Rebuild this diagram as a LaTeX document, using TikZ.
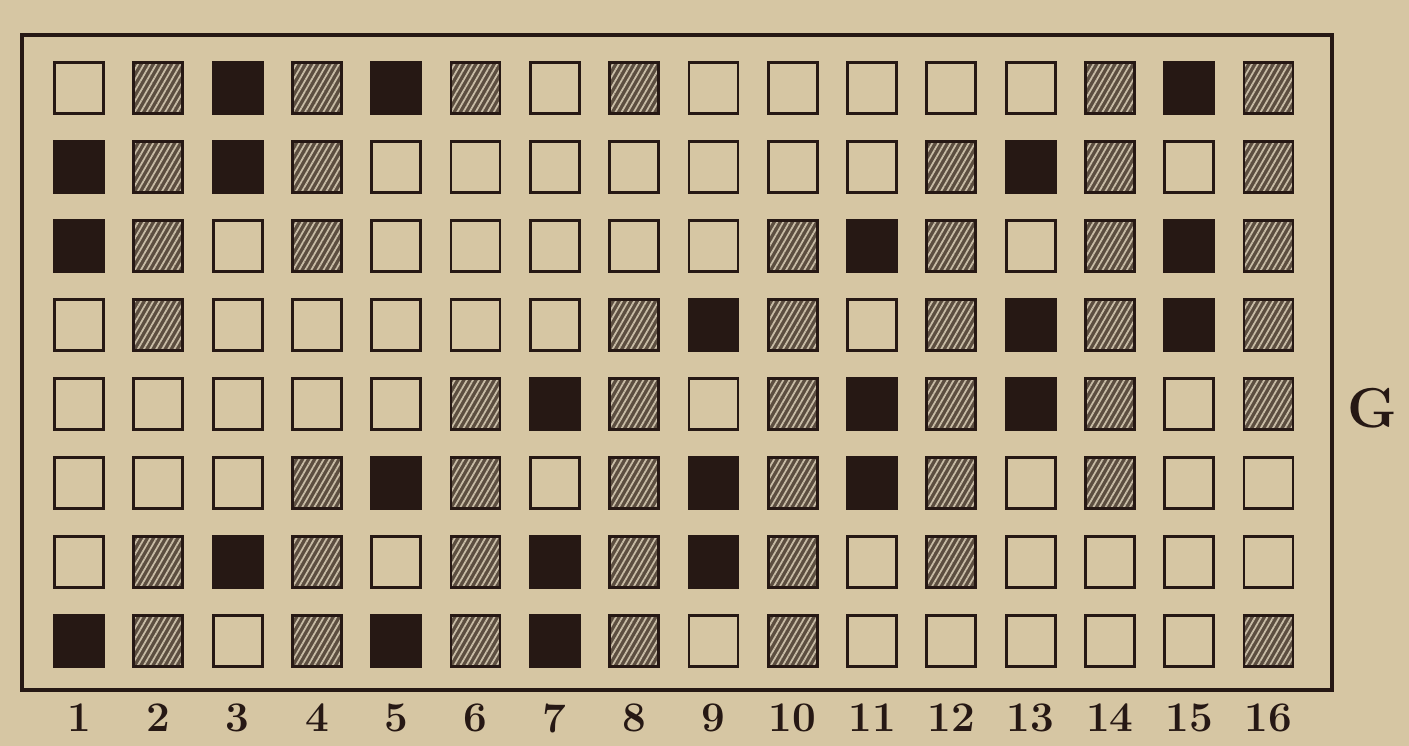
\documentclass[tikz,border=0pt]{standalone}
\usetikzlibrary{patterns.meta}

\definecolor{paper}{RGB}{214,198,163}
\definecolor{ink}{RGB}{38,24,20}
\definecolor{hatchbg}{RGB}{92,78,64}
\definecolor{hatchln}{RGB}{200,188,166}

\newcommand*{\xfirst}{79}
\newcommand*{\xstep}{79.3}
\newcommand*{\yfirst}{88}
\newcommand*{\ystep}{79}

\begin{document}
\begin{tikzpicture}
[
	x=0.02cm,
	y=-0.02cm,
	cell0/.style={draw=ink,line width=1.6pt,fill=paper,minimum width=0.98cm,minimum height=1.02cm,inner sep=0pt},
	cell1/.style={cell0,preaction={fill=hatchbg},pattern={Lines[angle=60,distance=3pt,line width=1pt]},pattern color=hatchln},
	cell2/.style={cell0,fill=ink},
	colnum/.style={font=\fontsize{24}{24}\selectfont\bfseries,text=ink}
]

	% paper
	\fill[paper] (0,0) rectangle (1409,746);
	\useasboundingbox (0,0) rectangle (1409,746);

	% frame
	\draw[ink,line width=2pt] (22,35) rectangle (1332,690);

	% cells: 0 empty, 1 hatched, 2 black
	\foreach \cells [count=\r] in {
		{0,1,2,1,2,1,0,1,0,0,0,0,0,1,2,1},
		{2,1,2,1,0,0,0,0,0,0,0,1,2,1,0,1},
		{2,1,0,1,0,0,0,0,0,1,2,1,0,1,2,1},
		{0,1,0,0,0,0,0,1,2,1,0,1,2,1,2,1},
		{0,0,0,0,0,1,2,1,0,1,2,1,2,1,0,1},
		{0,0,0,1,2,1,0,1,2,1,2,1,0,1,0,0},
		{0,1,2,1,0,1,2,1,2,1,0,1,0,0,0,0},
		{2,1,0,1,2,1,2,1,0,1,0,0,0,0,0,1}}
	{
		\foreach \k [count=\c] in \cells
			\node[cell\k] (cell-\r-\c) at ({\xfirst+(\c-1)*\xstep},{\yfirst+(\r-1)*\ystep}) {};
	}

	% column numbers
	\foreach \c in {1,...,16}
		\node[colnum] (num-\c) at ({\xfirst+(\c-1)*\xstep},718) {\c};

	\node[font=\fontsize{32}{32}\selectfont\bfseries,text=ink] (label) at (1372,408) {G};

\end{tikzpicture}
\end{document}
